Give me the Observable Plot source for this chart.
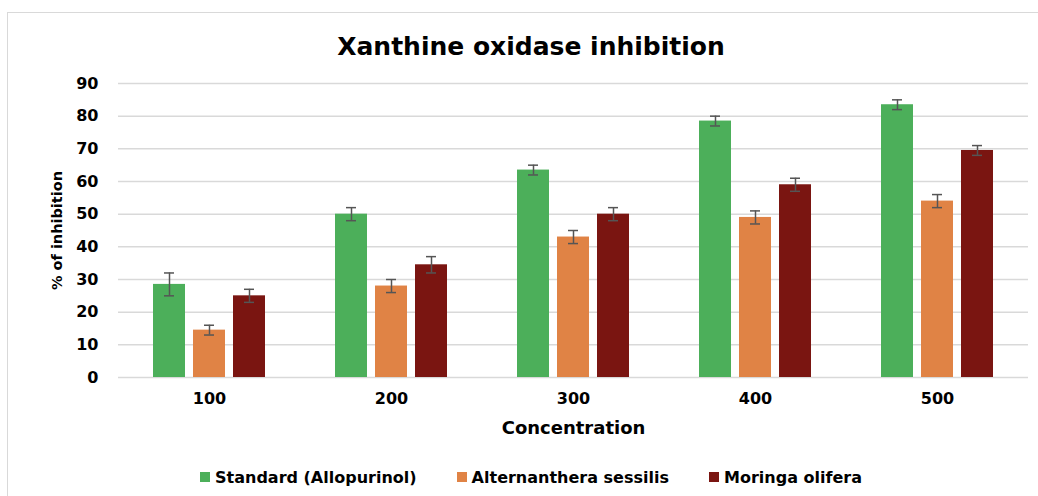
<!DOCTYPE html>
<html>
<head>
<meta charset="utf-8">
<script src="https://cdn.jsdelivr.net/npm/d3@7"></script>
<script src="https://cdn.jsdelivr.net/npm/@observablehq/plot@0.6"></script>
<style>
  html, body { margin: 0; padding: 0; background: #fff; width: 1038px; height: 496px; overflow: hidden; }
  #frame { position: absolute; left: 7px; top: 12px; width: 1100px; height: 600px; border: 1px solid #d9d9d9; box-sizing: border-box; }
  #title { position: absolute; left: 7px; width: 1048px; top: 34px; text-align: center; font-family: "DejaVu Sans", sans-serif; font-weight: bold; font-size: 25px; line-height: 25px; color: #000; }
  #chart { position: absolute; left: 0; top: 70px; }
  #legend { position: absolute; left: 7px; width: 1048px; top: 467px; height: 20px; display: flex; justify-content: center; align-items: center; gap: 40px; font-family: "DejaVu Sans", sans-serif; font-weight: bold; font-size: 16px; color: #000; }
  .item { display: flex; align-items: center; gap: 5px; }
  .sw { width: 10px; height: 10px; display: inline-block; }
  #chart svg g[aria-label="y-axis label"] text { font-size: 14.5px; }
  #chart svg g[aria-label="fx-axis label"] text { font-size: 18px; }
</style>
</head>
<body>
<div id="frame"></div>
<div id="title">Xanthine oxidase inhibition</div>
<div id="chart"></div>
<div id="legend"></div>
<script>
const concentrations = ["100", "200", "300", "400", "500"];
const seriesNames = ["Standard (Allopurinol)", "Alternanthera sessilis", "Moringa olifera"];
const standardMean = [28.5, 50, 63.5, 78.5, 83.5];
const standardErr = [3.5, 2, 1.5, 1.5, 1.5];
const sessilisMean = [14.5, 28, 43, 49, 54];
const sessilisErr = [1.5, 2, 2, 2, 2];
const oliferaMean = [25, 34.5, 50, 59, 69.5];
const oliferaErr = [2, 2.5, 2, 2, 1.5];
const seriesColors = ["#4caf5a", "#e08345", "#7a1511"];
const yTicks = [0, 10, 20, 30, 40, 50, 60, 70, 80, 90];

const means = [standardMean, sessilisMean, oliferaMean];
const errs = [standardErr, sessilisErr, oliferaErr];
const rows = [];
concentrations.forEach((c, i) => {
  seriesNames.forEach((s, j) => {
    rows.push({conc: c, series: s, value: means[j][i], lo: means[j][i] - errs[j][i], hi: means[j][i] + errs[j][i]});
  });
});

const chart = Plot.plot({
  width: 1038,
  height: 380,
  marginTop: 13,
  marginBottom: 73,
  marginLeft: 118,
  marginRight: 10,
  style: {fontFamily: "DejaVu Sans, sans-serif", fontSize: "16px", fontWeight: "bold", color: "#000", background: "transparent"},
  fx: {domain: concentrations, padding: 0, axis: "bottom", tickSize: 0, tickPadding: 15, label: "Concentration", labelAnchor: "center", labelOffset: 56},
  x: {domain: seriesNames, paddingInner: 0.2, paddingOuter: 0.875, axis: null},
  y: {domain: [0, 90], ticks: yTicks, tickSize: 0, tickPadding: 20, label: "% of inhibition", labelAnchor: "center", labelOffset: 67, labelArrow: false},
  color: {domain: seriesNames, range: seriesColors},
  marks: [
    Plot.gridY(yTicks, {stroke: "#d9d9d9", strokeOpacity: 1, strokeWidth: 1.5}),
    Plot.barY(rows, {fx: "conc", x: "series", y: "value", fill: "series"}),
    Plot.ruleX(rows, {fx: "conc", x: "series", y1: "lo", y2: "hi", stroke: "#555", strokeWidth: 1.5}),
    Plot.tickY(rows, {fx: "conc", x: "series", y: "lo", stroke: "#555", strokeWidth: 1.5, insetLeft: 11, insetRight: 11}),
    Plot.tickY(rows, {fx: "conc", x: "series", y: "hi", stroke: "#555", strokeWidth: 1.5, insetLeft: 11, insetRight: 11})
  ]
});
document.getElementById("chart").appendChild(chart);

const legend = document.getElementById("legend");
seriesNames.forEach((s, j) => {
  const item = document.createElement("span");
  item.className = "item";
  const sw = document.createElement("span");
  sw.className = "sw";
  sw.style.background = seriesColors[j];
  const t = document.createElement("span");
  t.textContent = s;
  item.appendChild(sw);
  item.appendChild(t);
  legend.appendChild(item);
});
</script>
</body>
</html>
